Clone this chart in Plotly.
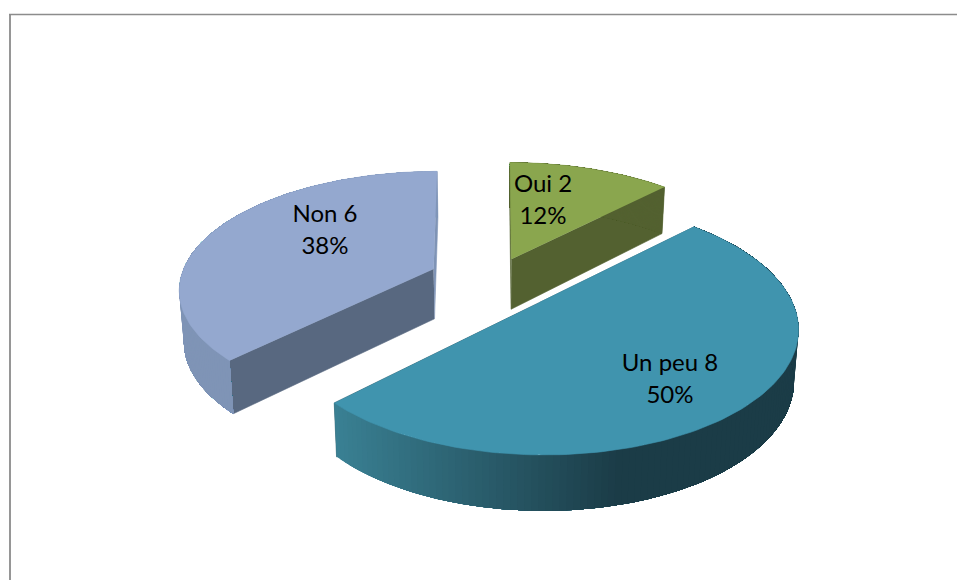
import numpy as np
import plotly.graph_objects as go

# data
categories = ["Oui", "Un peu", "Non"]
counts = [2, 8, 6]

# look of each slice: top, cut face, outer wall (left colour, right colour)
top_colors = ["#8aa64e", "#4094ae", "#94a8cf"]
cut_colors = ["#536130", "#2a6070", "#586880"]
side_colors = [("#536130", "#536130"), ("#3a8194", "#1b3c47"), ("#7f94b6", "#7f95b8")]
explode = [0.19, 0.26, 0.257]
label_pos = [(543, 202), (670, 381), (325, 232)]

# fake 3d projection, in page pixels. excel's 3d pie isn't a clean camera so each slice gets its own depth
CX, CY = 493, 280
slice_a = [252, 253, 250]
slice_b = [118, 122, 114]
slice_p = [0.22, 0.20, 0.17]
H = 50
Q = 0.015


def project(i, ox, oy, X, Y, low=False):
    w = 1 + slice_p[i] * Y
    x = CX + slice_a[i] * (ox * (0.6 + 0.4 / w) + X / w)
    y = CY - slice_b[i] * oy - slice_b[i] * Y / w
    if low:
        return CX + (x - CX) / (1 + Q), y + H / np.sqrt(w)
    return x, y


def mix(c1, c2, t):
    a = [int(c1[i:i + 2], 16) for i in (1, 3, 5)]
    b = [int(c2[i:i + 2], 16) for i in (1, 3, 5)]
    return "rgb(%d,%d,%d)" % tuple(round(u + (v - u) * t) for u, v in zip(a, b))


fig = go.Figure()


def poly(xs, ys, color, width=0.6):
    fig.add_trace(go.Scatter(x=list(xs), y=list(ys), mode="lines", fill="toself", fillcolor=color,
                             line=dict(color=color, width=width), hoverinfo="skip", showlegend=False))


total = sum(counts)
edges = np.cumsum([0] + counts) / total * 2 * np.pi
wedges = []
for i in range(len(counts)):
    t0, t1 = edges[i], edges[i + 1]
    mid = (t0 + t1) / 2
    wedges.append((i, t0, t1, explode[i] * np.sin(mid), explode[i] * np.cos(mid)))

# back slices first so the big one sits on top
for i, t0, t1, ox, oy in sorted(wedges, key=lambda v: -v[4]):
    ts = np.linspace(t0, t1, 140)
    rx, ry = np.sin(ts), np.cos(ts)

    # cut faces
    for t in (t0, t1):
        ex, ey = np.sin(t), np.cos(t)
        p1, p2 = project(i, ox, oy, 0, 0), project(i, ox, oy, ex, ey)
        p3, p4 = project(i, ox, oy, ex, ey, True), project(i, ox, oy, 0, 0, True)
        col = cut_colors[i]
        if i == 2 and t == t1:
            col = "#7f94b6"
        poly([p1[0], p2[0], p3[0], p4[0]], [p1[1], p2[1], p3[1], p4[1]], col)

    # outer wall, overlapping strips for the shading so no seams show
    up_x, up_y = project(i, ox, oy, rx, ry)
    lo_x, lo_y = project(i, ox, oy, rx, ry, True)
    span = max(up_x.max() - up_x.min(), 1)
    for k in range(len(ts) - 2, -1, -1):
        if i == 1:
            tone = min((up_x[k] - up_x.min()) / (span * 0.62), 1)
        else:
            tone = (up_x[k] - up_x.min()) / span
        col = mix(side_colors[i][0], side_colors[i][1], tone)
        # from strip k back to the start of the slice, later ones paint over
        poly(np.r_[up_x[:k + 2], lo_x[:k + 2][::-1]], np.r_[up_y[:k + 2], lo_y[:k + 2][::-1]], col, 0)

    # top
    cx, cy = project(i, ox, oy, 0, 0)
    poly(np.r_[cx, up_x], np.r_[cy, up_y], top_colors[i])

# labels, two separate lines because the gap is wider than plotly's <br>
for i, name in enumerate(categories):
    pct = round(counts[i] / total * 100)
    lx, ly = label_pos[i]
    fig.add_trace(go.Scatter(x=[lx, lx], y=[ly - 16, ly + 16], mode="text",
                             text=[f"{name} {counts[i]}", f"{pct}%"], textposition="middle center",
                             textfont=dict(family="Lato", size=24, color="#000000"),
                             hoverinfo="skip", showlegend=False))

fig.update_layout(
    width=957, height=580, margin=dict(l=0, r=0, t=0, b=0),
    paper_bgcolor="white", plot_bgcolor="white",
    xaxis=dict(range=[0, 957], visible=False, fixedrange=True),
    yaxis=dict(range=[580, 0], visible=False, fixedrange=True),
    shapes=[
        dict(type="line", x0=10, x1=10, y0=14, y1=580, line=dict(color="#969696", width=2)),
        dict(type="line", x0=9, x1=957, y0=14.5, y1=14.5, line=dict(color="#8c8c8c", width=1.5)),
    ],
)
# page margin would push the plot 8px off
fig.write_html("out.html", config=dict(displayModeBar=False),
               post_script="document.body.style.margin='0';document.body.style.overflow='hidden';")
